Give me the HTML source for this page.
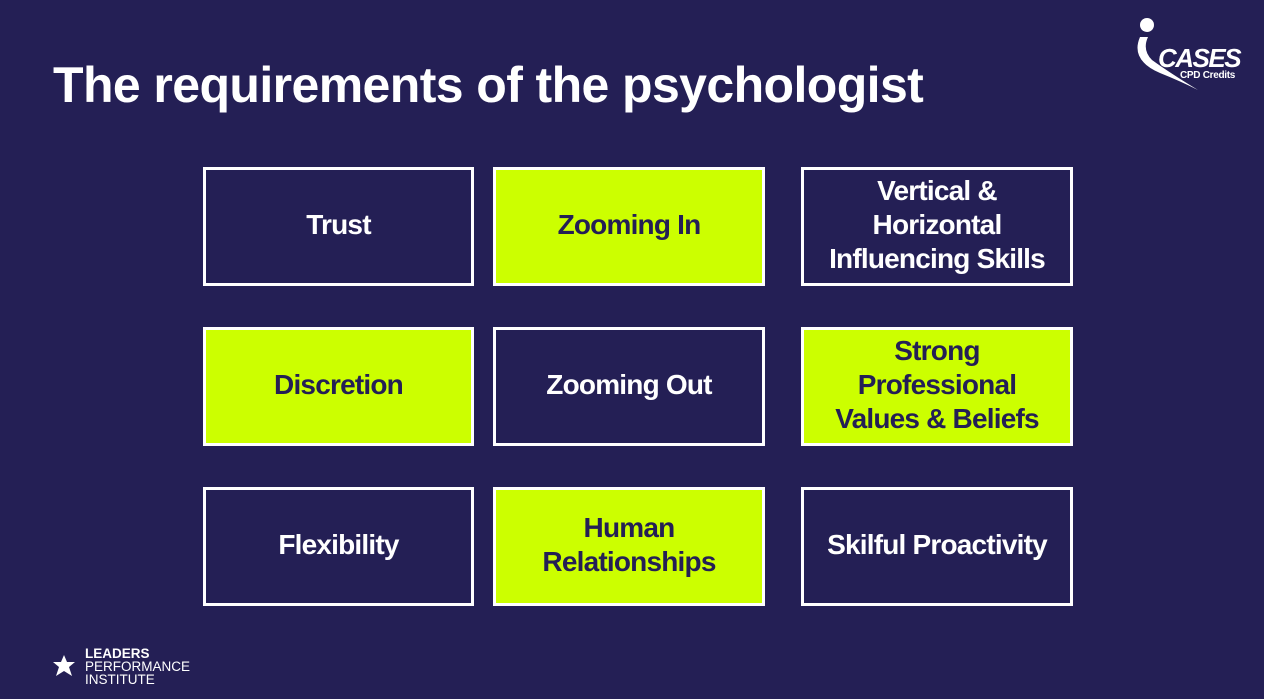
<!DOCTYPE html>
<html><head><style>
body{margin:0;width:1264px;height:699px;background:#241f55;position:relative;overflow:hidden;font-family:"Liberation Sans",sans-serif}
h1{position:absolute;left:53px;top:56px;margin:0;color:#fff;font-size:50px;font-weight:bold;letter-spacing:-0.6px;white-space:nowrap}
.b{position:absolute;box-sizing:border-box;border:3.5px solid #fff;display:flex;align-items:center;justify-content:center;text-align:center;color:#fff;font-weight:bold;font-size:28px;line-height:34px;letter-spacing:-0.8px;background:#241f55;padding-bottom:3px}
.g{background:#ccff00;color:#241f55}
.c1{left:203px;width:271px}.c2{left:493px;width:272px}.c3{left:801px;width:272px}
.r1{top:167px;height:119px}.r2{top:327px;height:119px}.r3{top:487px;height:119px}
</style></head><body>
<h1>The requirements of the psychologist</h1>
<div class="b c1 r1">Trust</div>
<div class="b g c2 r1">Zooming In</div>
<div class="b c3 r1">Vertical &amp;<br>Horizontal<br>Influencing Skills</div>
<div class="b g c1 r2">Discretion</div>
<div class="b c2 r2">Zooming Out</div>
<div class="b g c3 r2">Strong<br>Professional<br>Values &amp; Beliefs</div>
<div class="b c1 r3">Flexibility</div>
<div class="b g c2 r3">Human<br>Relationships</div>
<div class="b c3 r3">Skilful Proactivity</div>
<svg style="position:absolute;left:1130px;top:15px" width="120" height="80">
<circle cx="17" cy="10" r="7" fill="#fff"/>
<path d="M10 22 Q0 45 30 58 Q50 66 68 75 Q40 58 22 45 Q12 35 18 22 Z" fill="#fff"/>
<text x="28" y="52" fill="#fff" font-family="Liberation Sans" font-weight="bold" font-style="italic" font-size="26" letter-spacing="-1.5">CASES</text>
<text x="50" y="63" fill="#fff" font-family="Liberation Sans" font-weight="bold" font-size="10" letter-spacing="-0.3">CPD Credits</text>
</svg>
<svg style="position:absolute;left:52px;top:654px" width="24" height="24"><polygon points="12,1 15,8 23,8 17,13 20,22 12,17 4,22 7,13 1,8 9,8" fill="#fff"/></svg>
<div style="position:absolute;left:85px;top:647px;color:#fff;font-size:13.5px;line-height:13px">
<b>LEADERS</b><br>PERFORMANCE<br>INSTITUTE</div>
</body></html>
